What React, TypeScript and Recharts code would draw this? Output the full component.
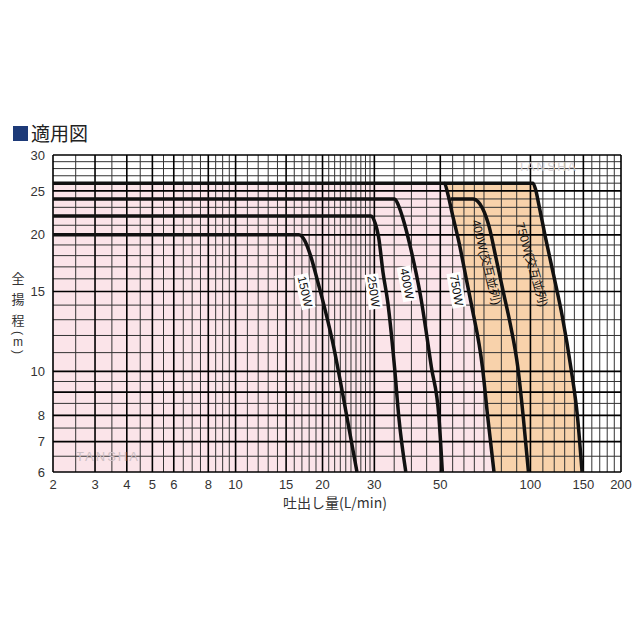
import React from 'react';
import { ComposedChart, Line, Area, XAxis, YAxis, ReferenceLine, ReferenceDot } from 'recharts';

// ---- axis ticks ----
const X_TICKS = [2, 3, 4, 5, 6, 8, 10, 15, 20, 30, 50, 100, 150, 200];
const Y_TICKS = [6, 7, 8, 10, 15, 20, 25, 30];

// ---- grid lines (values) ----
const X_GRID_MAJOR = [2, 3, 4, 5, 6, 8, 10, 15, 20, 30, 50, 100, 150, 200];
const X_GRID_MINOR = [2.5, 3.5, 4.5, 5.5, 6.5, 7, 7.5, 8.5, 9, 9.5, 11, 12, 13, 14, 16, 17, 18, 19, 21, 22, 23, 24, 25, 26, 27, 28, 29, 35, 40, 45, 55, 60, 65, 70, 80, 90, 110, 120, 130, 140, 160, 170, 180, 190];
const Y_GRID_MAJOR = [6, 7, 8, 9, 10, 15, 20, 25, 30];
const Y_GRID_MINOR = [6.5, 7.5, 8.5, 9.5, 11, 12, 13, 14, 16, 17, 18, 19, 21, 22, 23, 24, 26, 27, 28, 29];

// ---- pump curves: [flow L/min, head m] ----
const CURVE_150W: [number, number][] = [[2, 20], [16.6, 20], [17.4, 19.4], [18.2, 18], [19.2, 15.9], [20, 14.4], [21.6, 11.7], [23.3, 9.1], [26.2, 6]];
const CURVE_250W: [number, number][] = [[2, 22], [29.2, 22], [30.2, 21.2], [31, 19.8], [32.1, 16.5], [33.3, 14.2], [35.1, 10.2], [36.3, 7.9], [38.3, 6]];
const CURVE_400W: [number, number][] = [[2, 24], [35.1, 24], [36.2, 23.2], [37.4, 21.8], [39.9, 18.5], [42.9, 14.7], [46.7, 10.2], [49.5, 7.9], [50.8, 6]];
const CURVE_750W: [number, number][] = [[2, 26], [51.6, 26], [53, 24.6], [54.8, 22.3], [57.9, 19.1], [61.2, 15.9], [63.6, 14], [69.2, 10.2], [72.1, 7.9], [75.6, 6]];
const CURVE_400W_PAR: [number, number][] = [[54.1, 24], [64.5, 24], [66.8, 23.7], [69.2, 22.9], [72.9, 20.8], [76.6, 17.9], [81.5, 14.8], [85.5, 12.8], [90.8, 10.2], [94.7, 7.9], [98.5, 6]];
const CURVE_750W_PAR: [number, number][] = [[51.6, 26], [102, 26], [104, 25.2], [106.4, 23.5], [112.1, 19.8], [119.7, 16.2], [127.7, 13.2], [136.3, 10.2], [143.5, 7.9], [148.5, 6]];

// ---- curve labels ----
const LABEL_TEXT = ['150W', '250W', '400W', '750W', '400W(交互並列)', '750W(交互並列)'];
const LABEL_AT: [number, number][] = [[17.4, 15.0], [29.8, 15.0], [38.6, 15.6], [56.6, 15.1], [71.2, 17.4], [101, 17.2]];
const LABEL_ANGLE = [77, 82, 79, 80, 76, 74];
const LABEL_BG = [true, true, true, true, false, false];

// ---- axis scale: slightly compressed logarithmic flow axis ----
const C = 0.65;
const tx = (q: number) => Math.log10(q + C);

const toPts = (a: [number, number][]) => a.map(([q, h]) => ({ q, h }));

const NUM_FONT = "'Liberation Sans', Arial, 'Noto Sans CJK JP', sans-serif";
const JP_FONT = "'Noto Sans CJK JP', 'Liberation Sans', sans-serif";

const CURVES = [CURVE_150W, CURVE_250W, CURVE_400W, CURVE_750W, CURVE_400W_PAR, CURVE_750W_PAR];

function makeLabel(text: string, angle: number, bg: boolean) {
  return (props: any) => {
    const { cx, cy } = props;
    if (cx == null || cy == null) return <g />;
    let w = 0;
    for (const ch of text) w += /[\u3000-\u9fff]/.test(ch) ? 12 : ch === 'W' ? 11 : ch === '(' || ch === ')' ? 4 : 6.7;
    return (
      <g transform={`rotate(${angle} ${cx} ${cy})`}>
        {bg && <rect x={cx - w / 2 - 2} y={cy - 7} width={w + 4} height={14} fill="#ffffff" />}
        <text x={cx} y={cy} textAnchor="middle" dominantBaseline="central" fontSize={12} fill="#111" fontFamily={NUM_FONT}>
          {text}
        </text>
      </g>
    );
  };
}

export default function App() {
  const tick = { fontSize: 13, fill: '#333', fontFamily: NUM_FONT };
  return (
    <div style={{ position: 'absolute', left: 0, top: 0, width: 640, height: 640, background: '#fff', overflow: 'hidden' }}>
      <div style={{ position: 'absolute', left: 13, top: 126, width: 15, height: 15, background: '#1d3a78' }} />
      <div style={{ position: 'absolute', left: 31, top: 121, fontSize: 19, lineHeight: '24px', fontFamily: JP_FONT, color: '#222' }}>適用図</div>
      <div style={{ position: 'absolute', left: 0, top: 0 }}>
        <ComposedChart width={640} height={640} margin={{ top: 155, right: 19, bottom: 138, left: 8 }}>
          <XAxis
            type="number"
            dataKey={(d: any) => tx(d.q)}
            domain={[tx(2), tx(200)]}
            allowDataOverflow
            ticks={X_TICKS.map(tx)}
            interval={0}
            tickFormatter={(v: number) => {
              const t = X_TICKS.find((x) => Math.abs(tx(x) - v) < 1e-9);
              return t == null ? '' : String(t);
            }}
            axisLine={false}
            tickLine={false}
            height={30}
            tick={tick}
          />
          <YAxis
            type="number"
            scale="log"
            domain={[6, 30]}
            allowDataOverflow
            ticks={Y_TICKS}
            interval={0}
            axisLine={false}
            tickLine={false}
            width={45}
            tick={tick}
          />
          <Area data={toPts(CURVE_750W_PAR)} dataKey="h" type="monotone" fill="#f8d2ab" fillOpacity={1} stroke="none" baseValue={6} isAnimationActive={false} />
          <Area data={toPts(CURVE_750W)} dataKey="h" type="monotone" fill="#fbe4e9" fillOpacity={1} stroke="none" baseValue={6} isAnimationActive={false} />
          {X_GRID_MINOR.map((v) => (
            <ReferenceLine key={'xm' + v} x={tx(v)} stroke="#333" strokeWidth={1} ifOverflow="visible" />
          ))}
          {Y_GRID_MINOR.map((v) => (
            <ReferenceLine key={'ym' + v} y={v} stroke="#333" strokeWidth={1} ifOverflow="visible" />
          ))}
          {X_GRID_MAJOR.map((v) => (
            <ReferenceLine key={'xM' + v} x={tx(v)} stroke="#000" strokeWidth={1.6} ifOverflow="visible" />
          ))}
          {Y_GRID_MAJOR.map((v) => (
            <ReferenceLine key={'yM' + v} y={v} stroke="#000" strokeWidth={1.6} ifOverflow="visible" />
          ))}
          {CURVES.map((c, i) => (
            <Line key={'c' + i} data={toPts(c)} dataKey="h" type="monotone" stroke="#111" strokeWidth={3.5} dot={false} activeDot={false} isAnimationActive={false} />
          ))}
          {LABEL_TEXT.map((t, i) => (
            <ReferenceDot key={'l' + i} x={tx(LABEL_AT[i][0])} y={LABEL_AT[i][1]} r={0} ifOverflow="visible" shape={makeLabel(t, LABEL_ANGLE[i], LABEL_BG[i])} />
          ))}
        </ComposedChart>
      </div>
      <svg width={640} height={640} style={{ position: 'absolute', left: 0, top: 0, pointerEvents: 'none' }}>
        <g fontFamily={JP_FONT} fontSize={13} fill="#333" textAnchor="middle" dominantBaseline="central">
          <text x={18} y={277}>全</text>
          <text x={18} y={298}>揚</text>
          <text x={18} y={319}>程</text>
        </g>
        <g fontFamily={NUM_FONT} fontSize={12} fill="#333" textAnchor="middle" dominantBaseline="central">
          <text x={0} y={0} transform="translate(18 333) rotate(90)">(</text>
          <text x={18} y={342}>m</text>
          <text x={0} y={0} transform="translate(18 352) rotate(90)">)</text>
        </g>
        <text x={335} y={502} textAnchor="middle" dominantBaseline="central" fontSize={14} fontFamily={JP_FONT} fill="#333">吐出し量(L/min)</text>
        <text x={108} y={456} textAnchor="middle" dominantBaseline="central" fontSize={13} fontFamily={NUM_FONT} fill="#cdbfc4" letterSpacing={2}>TANSHA</text>
        <text x={548} y={167} textAnchor="middle" dominantBaseline="central" fontSize={12} fontFamily={NUM_FONT} fill="#d6d0d2" letterSpacing={2}>TANSHA</text>
      </svg>
    </div>
  );
}
